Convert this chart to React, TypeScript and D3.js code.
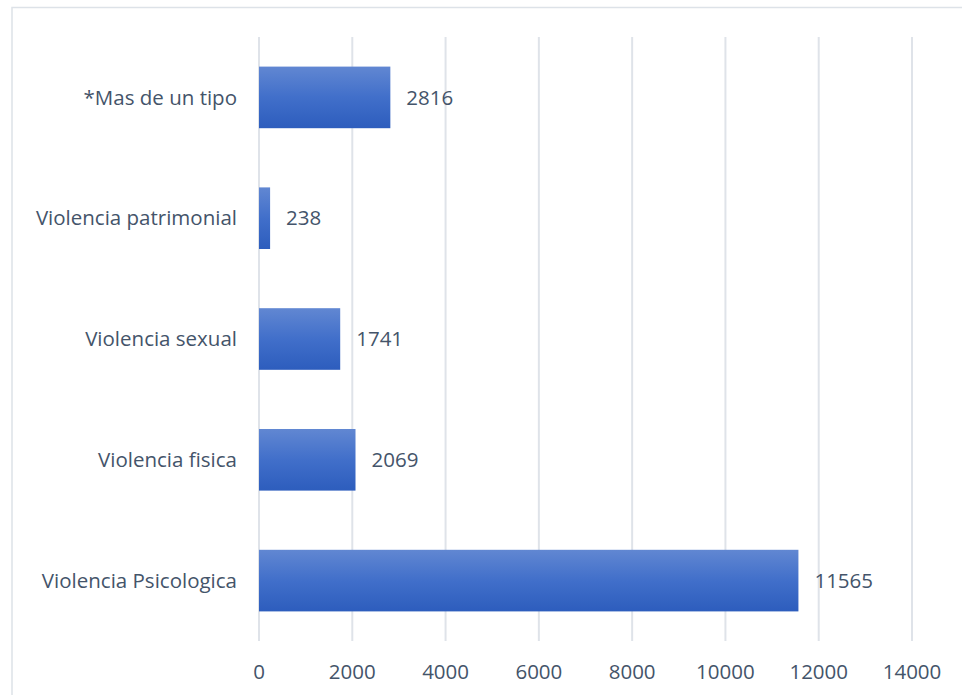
import React from "react";
import * as d3 from "d3";

const categories = [
  "Violencia Psicologica",
  "Violencia fisica",
  "Violencia sexual",
  "Violencia patrimonial",
  "*Mas de un tipo",
];
const values = [11565, 2069, 1741, 238, 2816];
const xTicks = [0, 2000, 4000, 6000, 8000, 10000, 12000, 14000];

const W = 962;
const H = 695;
const plot = { left: 259, right: 912, top: 37, bottom: 641 };
const textColor = "#44546a";
const font = "'Open Sans', 'Noto Sans', sans-serif";
const fs = 20.5;

export default function App() {
  const x = d3.scaleLinear().domain([0, 14000]).range([plot.left, plot.right]);
  // bottom-to-top like Excel bar charts
  const y = d3
    .scaleBand<string>()
    .domain([...categories].reverse())
    .range([plot.top, plot.bottom])
    .paddingInner(0.49)
    .paddingOuter(0.245);

  return (
    <svg
      width={W}
      height={H}
      style={{ position: "fixed", left: 0, top: 0, display: "block", background: "#fff" }}
    >
      <defs>
        <linearGradient id="barGrad" x1="0" y1="0" x2="0" y2="1">
          <stop offset="0" stopColor="#6187d2" />
          <stop offset="0.5" stopColor="#416fca" />
          <stop offset="1" stopColor="#2d5dbd" />
        </linearGradient>
      </defs>

      {/* chart area border, runs past the right and bottom edges */}
      <rect x={12} y={7.5} width={W + 20} height={H + 20} fill="#fff" stroke="#dde2e8" strokeWidth={1.5} />

      {xTicks.map((t) => (
        <line
          key={"g" + t}
          x1={x(t)}
          x2={x(t)}
          y1={plot.top}
          y2={plot.bottom}
          stroke="#dfe3e9"
          strokeWidth={2}
        />
      ))}

      {categories.map((c, i) => (
        <g key={c}>
          <rect
            x={x(0)}
            y={y(c)}
            width={x(values[i]) - x(0)}
            height={y.bandwidth()}
            fill="url(#barGrad)"
          />
          <text
            x={x(values[i]) + 16}
            y={(y(c) ?? 0) + y.bandwidth() / 2}
            dy="0.35em"
            fontFamily={font}
            fontSize={fs}
            fill={textColor}
          >
            {values[i]}
          </text>
          <text
            x={237}
            y={(y(c) ?? 0) + y.bandwidth() / 2}
            dy="0.35em"
            textAnchor="end"
            fontFamily={font}
            fontSize={fs}
            fill={textColor}
          >
            {c}
          </text>
        </g>
      ))}

      {xTicks.map((t) => (
        <text
          key={"t" + t}
          x={x(t)}
          y={672}
          dy="0.35em"
          textAnchor="middle"
          fontFamily={font}
          fontSize={fs}
          fill={textColor}
        >
          {t}
        </text>
      ))}
    </svg>
  );
}
